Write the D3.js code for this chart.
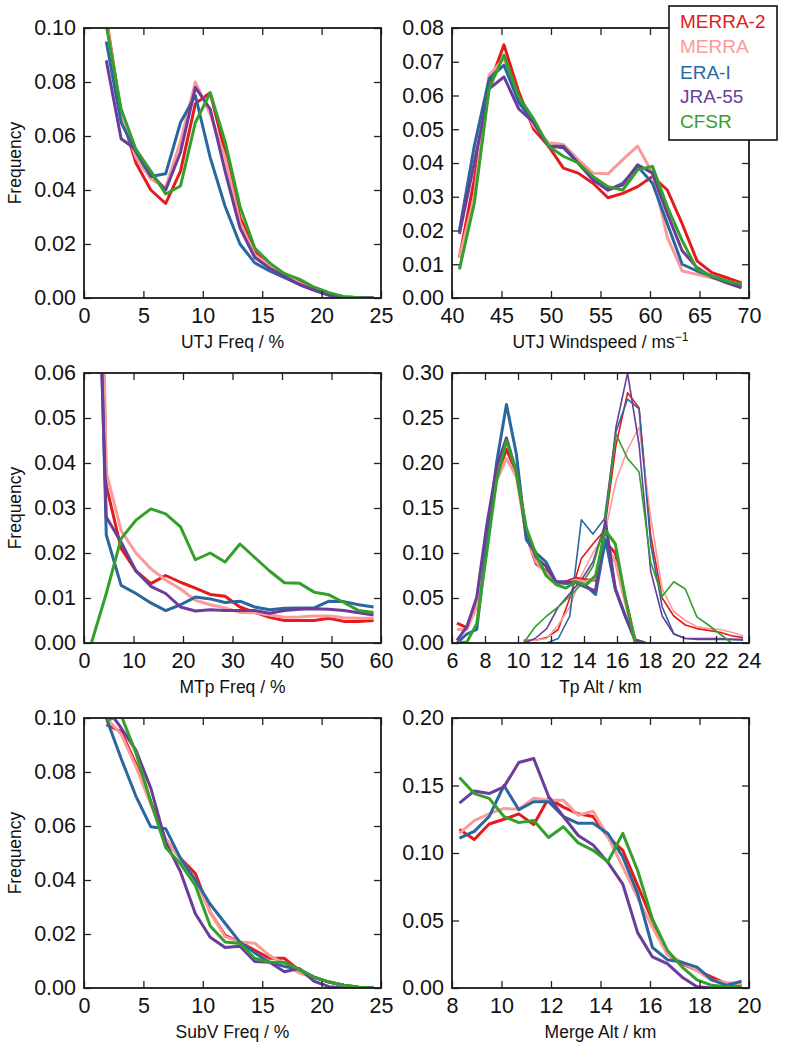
<!DOCTYPE html>
<html>
<head>
<meta charset="utf-8">
<script src="https://cdn.jsdelivr.net/npm/d3@7"></script>
<style>
  html, body { margin: 0; padding: 0; background: #fff; }
  svg { display: block; font-family: "Liberation Sans", Arial, Helvetica, sans-serif; }
</style>
</head>
<body>
<svg id="chart" width="786" height="1050"></svg>
<script>
// ---------------- DATA ----------------
const seriesNames = ["MERRA-2", "MERRA", "ERA-I", "JRA-55", "CFSR"];
const seriesColors = ["#e41a1c", "#fb9a99", "#2b679f", "#6a3d9a", "#33a02c"];

// Panel 1: UTJ Freq / %
const utjFreqX = [1.875, 3.125, 4.375, 5.625, 6.875, 8.125, 9.375, 10.625, 11.875, 13.125, 14.375, 15.625, 16.875, 18.125, 19.375, 20.625, 21.875, 23.125, 24.375];
const utjFreqMerra2 = [0.104, 0.068, 0.050, 0.040, 0.035, 0.047, 0.072, 0.076, 0.054, 0.030, 0.017, 0.012, 0.009, 0.006, 0.0035, 0.0015, 0.0005, 0.0001, 0];
const utjFreqMerra  = [0.103, 0.068, 0.052, 0.044, 0.041, 0.058, 0.080, 0.068, 0.052, 0.028, 0.016, 0.012, 0.009, 0.0055, 0.003, 0.0015, 0.0005, 0.0001, 0];
const utjFreqEraI   = [0.095, 0.065, 0.054, 0.045, 0.046, 0.065, 0.075, 0.052, 0.034, 0.020, 0.013, 0.010, 0.0075, 0.005, 0.003, 0.0012, 0.0003, 0.0001, 0];
const utjFreqJra55  = [0.088, 0.059, 0.055, 0.046, 0.040, 0.054, 0.078, 0.070, 0.047, 0.026, 0.015, 0.011, 0.008, 0.005, 0.0028, 0.001, 0, 0, 0];
const utjFreqCfsr   = [0.101, 0.070, 0.055, 0.047, 0.0385, 0.0415, 0.065, 0.076, 0.058, 0.034, 0.0185, 0.013, 0.009, 0.007, 0.004, 0.002, 0.0005, 0.0001, 0];

// Panel 2: UTJ Windspeed / m s-1
const utjWindX = [40.75, 42.25, 43.75, 45.25, 46.75, 48.25, 49.75, 51.25, 52.75, 54.25, 55.75, 57.25, 58.75, 60.25, 61.75, 63.25, 64.75, 66.25, 67.75, 69.25];
const utjWindMerra2 = [0.012, 0.035, 0.063, 0.075, 0.061, 0.050, 0.045, 0.0385, 0.037, 0.034, 0.0297, 0.031, 0.033, 0.036, 0.032, 0.022, 0.011, 0.0075, 0.006, 0.0045];
const utjWindMerra  = [0.012, 0.030, 0.066, 0.071, 0.059, 0.051, 0.046, 0.0455, 0.041, 0.037, 0.0368, 0.041, 0.045, 0.037, 0.018, 0.008, 0.007, 0.006, 0.005, 0.004];
const utjWindEraI   = [0.020, 0.045, 0.065, 0.069, 0.058, 0.052, 0.045, 0.045, 0.040, 0.035, 0.032, 0.034, 0.039, 0.034, 0.022, 0.010, 0.008, 0.0065, 0.005, 0.0035];
const utjWindJra55  = [0.019, 0.040, 0.062, 0.0655, 0.056, 0.052, 0.045, 0.0445, 0.040, 0.035, 0.032, 0.0335, 0.0395, 0.037, 0.025, 0.014, 0.009, 0.0062, 0.0045, 0.003];
const utjWindCfsr   = [0.0085, 0.028, 0.062, 0.072, 0.0596, 0.053, 0.045, 0.042, 0.040, 0.036, 0.033, 0.032, 0.038, 0.039, 0.027, 0.017, 0.0085, 0.0065, 0.005, 0.004];

// Panel 3: MTp Freq / %
const mtpX = [1.5, 4.5, 7.5, 10.5, 13.5, 16.5, 19.5, 22.5, 25.5, 28.5, 31.5, 34.5, 37.5, 40.5, 43.5, 46.5, 49.5, 52.5, 55.5, 58.5];
const mtpMerra2 = [0.20, 0.035, 0.021, 0.016, 0.0132, 0.015, 0.0135, 0.0122, 0.0108, 0.0104, 0.008, 0.0068, 0.0057, 0.005, 0.005, 0.005, 0.0055, 0.0048, 0.0048, 0.005];
const mtpMerra  = [0.20, 0.038, 0.025, 0.020, 0.0165, 0.014, 0.012, 0.0095, 0.0085, 0.0078, 0.0068, 0.0067, 0.0062, 0.0057, 0.0058, 0.006, 0.006, 0.0056, 0.0055, 0.0055];
const mtpEraI   = [0.15, 0.024, 0.0128, 0.011, 0.0089, 0.0072, 0.0085, 0.0102, 0.0098, 0.009, 0.0093, 0.008, 0.0074, 0.0077, 0.0078, 0.0078, 0.0093, 0.0092, 0.0085, 0.008];
const mtpJra55  = [0.135, 0.028, 0.0224, 0.016, 0.0126, 0.011, 0.008, 0.0071, 0.0074, 0.0072, 0.0072, 0.0072, 0.0066, 0.0072, 0.0075, 0.0076, 0.0075, 0.0072, 0.0067, 0.0062];
const mtpCfsr   = [0, 0.011, 0.0232, 0.0273, 0.0298, 0.0287, 0.0258, 0.0185, 0.020, 0.018, 0.022, 0.019, 0.016, 0.0134, 0.0133, 0.0113, 0.0107, 0.009, 0.0072, 0.0068];

// Panel 4: Tp Alt / km  (thick: first tropopause, thin: second tropopause)
const tp1X = [6.3, 6.9, 7.5, 8.1, 8.7, 9.3, 9.9, 10.5, 11.1, 11.7, 12.3, 12.9, 13.5, 14.1, 14.7, 15.3, 15.9, 16.5, 17.1, 17.7];
const tp1Merra2 = [0.022, 0.017, 0.045, 0.12, 0.185, 0.215, 0.19, 0.12, 0.088, 0.08, 0.066, 0.068, 0.072, 0.07, 0.07, 0.112, 0.10, 0.05, 0.003, 0];
const tp1Merra  = [0.015, 0.015, 0.04, 0.115, 0.18, 0.205, 0.185, 0.12, 0.09, 0.078, 0.067, 0.066, 0.07, 0.068, 0.072, 0.11, 0.09, 0.045, 0.003, 0];
const tp1EraI   = [0.0, 0.01, 0.015, 0.11, 0.20, 0.265, 0.21, 0.115, 0.10, 0.09, 0.068, 0.066, 0.068, 0.064, 0.054, 0.115, 0.06, 0.03, 0.003, 0];
const tp1Jra55  = [0.003, 0.018, 0.051, 0.13, 0.195, 0.228, 0.19, 0.125, 0.095, 0.085, 0.068, 0.068, 0.067, 0.062, 0.058, 0.135, 0.06, 0.03, 0.003, 0];
const tp1Cfsr   = [0.0, 0.001, 0.0215, 0.10, 0.18, 0.225, 0.19, 0.128, 0.098, 0.075, 0.065, 0.061, 0.068, 0.064, 0.075, 0.125, 0.11, 0.05, 0.0, 0];
const tp2X = [10.34, 11.04, 11.74, 12.44, 13.14, 13.84, 14.54, 15.24, 15.94, 16.64, 17.34, 18.04, 18.74, 19.44, 20.14, 20.84, 21.54, 22.24, 22.94, 23.64];
const tp2Merra2 = [0.003, 0.003, 0.006, 0.015, 0.05, 0.094, 0.11, 0.125, 0.22, 0.278, 0.261, 0.12, 0.05, 0.03, 0.02, 0.016, 0.014, 0.012, 0.008, 0.006];
const tp2Merra  = [0.002, 0.003, 0.005, 0.02, 0.04, 0.075, 0.10, 0.12, 0.18, 0.215, 0.24, 0.14, 0.06, 0.035, 0.025, 0.018, 0.016, 0.015, 0.012, 0.008];
const tp2EraI   = [0, 0, 0, 0.005, 0.03, 0.137, 0.121, 0.138, 0.235, 0.271, 0.26, 0.11, 0.04, 0.0104, 0.005, 0.004, 0.004, 0.004, 0.004, 0.003];
const tp2Jra55  = [0, 0.005, 0.016, 0.04, 0.055, 0.07, 0.09, 0.13, 0.24, 0.30, 0.22, 0.08, 0.03, 0.01, 0.005, 0.005, 0.005, 0.005, 0.004, 0.004];
const tp2Cfsr   = [0, 0.018, 0.03, 0.04, 0.052, 0.065, 0.085, 0.13, 0.232, 0.205, 0.19, 0.09, 0.052, 0.068, 0.06, 0.029, 0.02, 0.01, 0.0, 0];

// Panel 5: SubV Freq / %
const subvX = [1.875, 3.125, 4.375, 5.625, 6.875, 8.125, 9.375, 10.625, 11.875, 13.125, 14.375, 15.625, 16.875, 18.125, 19.375, 20.625, 21.875, 23.125, 24.375];
const subvMerra2 = [0.0975, 0.095, 0.083, 0.069, 0.055, 0.048, 0.0424, 0.028, 0.0195, 0.017, 0.014, 0.011, 0.011, 0.0065, 0.004, 0.0022, 0.001, 0.0003, 0];
const subvMerra  = [0.100, 0.094, 0.082, 0.068, 0.055, 0.048, 0.040, 0.028, 0.019, 0.017, 0.0166, 0.012, 0.009, 0.0055, 0.004, 0.0022, 0.001, 0.0003, 0];
const subvEraI   = [0.100, 0.085, 0.071, 0.0597, 0.059, 0.048, 0.040, 0.031, 0.024, 0.017, 0.013, 0.0095, 0.008, 0.007, 0.004, 0.0022, 0.001, 0.0003, 0];
const subvJra55  = [0.104, 0.0963, 0.088, 0.074, 0.054, 0.043, 0.0275, 0.0188, 0.015, 0.0155, 0.0098, 0.0095, 0.006, 0.0072, 0.0025, 0.0005, 0, 0, 0];
const subvCfsr   = [0.099, 0.101, 0.087, 0.069, 0.052, 0.046, 0.038, 0.023, 0.017, 0.0165, 0.011, 0.0095, 0.0095, 0.0068, 0.004, 0.0022, 0.001, 0.0003, 0];

// Panel 6: Merge Alt / km
const mergeX = [8.3, 8.9, 9.5, 10.1, 10.7, 11.3, 11.9, 12.5, 13.1, 13.7, 14.3, 14.9, 15.5, 16.1, 16.7, 17.3, 17.9, 18.5, 19.1, 19.7];
const mergeMerra2 = [0.1175, 0.110, 0.1215, 0.125, 0.129, 0.121, 0.1405, 0.134, 0.129, 0.127, 0.112, 0.102, 0.076, 0.050, 0.025, 0.018, 0.013, 0.008, 0.003, 0.002];
const mergeMerra  = [0.1145, 0.124, 0.129, 0.133, 0.1325, 0.1405, 0.139, 0.139, 0.128, 0.131, 0.112, 0.0897, 0.067, 0.045, 0.025, 0.019, 0.013, 0.0055, 0.004, 0.003];
const mergeEraI   = [0.111, 0.116, 0.127, 0.150, 0.132, 0.138, 0.138, 0.127, 0.122, 0.122, 0.1145, 0.097, 0.070, 0.030, 0.021, 0.019, 0.0155, 0.006, 0.002, 0.005];
const mergeJra55  = [0.137, 0.146, 0.144, 0.149, 0.167, 0.170, 0.142, 0.127, 0.113, 0.106, 0.093, 0.077, 0.041, 0.023, 0.018, 0.008, 0.001, 0, 0, 0];
const mergeCfsr   = [0.156, 0.144, 0.1405, 0.127, 0.1225, 0.124, 0.1115, 0.1195, 0.1075, 0.102, 0.0935, 0.1145, 0.087, 0.051, 0.028, 0.0155, 0.006, 0.002, 0.001, 0.001];

// Axis ticks
const ticksFreq10 = [0, 0.02, 0.04, 0.06, 0.08, 0.10];
const ticksFreq08 = [0, 0.01, 0.02, 0.03, 0.04, 0.05, 0.06, 0.07, 0.08];
const ticksFreq06 = [0, 0.01, 0.02, 0.03, 0.04, 0.05, 0.06];
const ticksFreq30 = [0, 0.05, 0.10, 0.15, 0.20, 0.25, 0.30];
const ticksFreq20 = [0, 0.05, 0.10, 0.15, 0.20];
const ticksPct25 = [0, 5, 10, 15, 20, 25];
const ticksWind = [40, 45, 50, 55, 60, 65, 70];
const ticksPct60 = [0, 10, 20, 30, 40, 50, 60];
const ticksAlt24 = [6, 8, 10, 12, 14, 16, 18, 20, 22, 24];
const ticksAlt20 = [8, 10, 12, 14, 16, 18, 20];

// ---------------- DRAW ----------------
const svg = d3.select("#chart");
const W = 297, H = 270;
const colX = [84, 452];
const rowY = [28, 373, 718];

const panels = [
  { col: 0, row: 0, xd: [0, 25], yd: [0, 0.10], xt: ticksPct25, yt: ticksFreq10, yfmt: ".2f", xlabel: "UTJ Freq / %", ylabel: true,
    sets: [{ x: utjFreqX, ys: [utjFreqMerra2, utjFreqMerra, utjFreqEraI, utjFreqJra55, utjFreqCfsr], w: 3 }] },
  { col: 1, row: 0, xd: [40, 70], yd: [0, 0.08], xt: ticksWind, yt: ticksFreq08, yfmt: ".2f", xlabel: "UTJ Windspeed / ms", xsup: "\u22121", ylabel: false,
    sets: [{ x: utjWindX, ys: [utjWindMerra2, utjWindMerra, utjWindEraI, utjWindJra55, utjWindCfsr], w: 3 }] },
  { col: 0, row: 1, xd: [0, 60], yd: [0, 0.06], xt: ticksPct60, yt: ticksFreq06, yfmt: ".2f", xlabel: "MTp Freq / %", ylabel: true,
    sets: [{ x: mtpX, ys: [mtpMerra2, mtpMerra, mtpEraI, mtpJra55, mtpCfsr], w: 3 }] },
  { col: 1, row: 1, xd: [6, 24], yd: [0, 0.30], xt: ticksAlt24, yt: ticksFreq30, yfmt: ".2f", xlabel: "Tp Alt / km", ylabel: false,
    sets: [{ x: tp2X, ys: [tp2Merra2, tp2Merra, tp2EraI, tp2Jra55, tp2Cfsr], w: 1.6 },
           { x: tp1X, ys: [tp1Merra2, tp1Merra, tp1EraI, tp1Jra55, tp1Cfsr], w: 3 }] },
  { col: 0, row: 2, xd: [0, 25], yd: [0, 0.10], xt: ticksPct25, yt: ticksFreq10, yfmt: ".2f", xlabel: "SubV Freq / %", ylabel: true,
    sets: [{ x: subvX, ys: [subvMerra2, subvMerra, subvEraI, subvJra55, subvCfsr], w: 3 }] },
  { col: 1, row: 2, xd: [8, 20], yd: [0, 0.20], xt: ticksAlt20, yt: ticksFreq20, yfmt: ".2f", xlabel: "Merge Alt / km", ylabel: false,
    sets: [{ x: mergeX, ys: [mergeMerra2, mergeMerra, mergeEraI, mergeJra55, mergeCfsr], w: 3 }] }
];

const tickFont = 21.5, labelFont = 17.5, tickLen = 7;

panels.forEach((p, i) => {
  const left = colX[p.col], top = rowY[p.row];
  const g = svg.append("g").attr("transform", `translate(${left},${top})`);
  const x = d3.scaleLinear().domain(p.xd).range([0, W]);
  const y = d3.scaleLinear().domain(p.yd).range([H, 0]);

  svg.append("defs").append("clipPath").attr("id", "clip" + i)
    .append("rect").attr("x", 0).attr("y", 0).attr("width", W).attr("height", H);

  const plot = g.append("g").attr("clip-path", `url(#clip${i})`);
  const line = d3.line().x(d => x(d[0])).y(d => y(d[1]));
  p.sets.forEach(set => {
    set.ys.forEach((vals, k) => {
      const pts = set.x.map((xv, j) => [xv, vals[j]]);
      plot.append("path").datum(pts)
        .attr("d", line)
        .attr("fill", "none")
        .attr("stroke", seriesColors[k])
        .attr("stroke-width", set.w)
        .attr("stroke-linejoin", "round")
        .attr("stroke-linecap", "butt");
    });
  });

  // axes with inward ticks on all four sides
  const ax = g.append("g").attr("transform", `translate(0,${H})`)
    .call(d3.axisBottom(x).tickValues(p.xt).tickFormat(d3.format("d")).tickSizeInner(-tickLen).tickSizeOuter(0).tickPadding(10));
  const ay = g.append("g")
    .call(d3.axisLeft(y).tickValues(p.yt).tickFormat(d3.format(p.yfmt)).tickSizeInner(-tickLen).tickSizeOuter(0).tickPadding(8));
  const at = g.append("g")
    .call(d3.axisTop(x).tickValues(p.xt).tickFormat("").tickSizeInner(-tickLen).tickSizeOuter(0));
  const ar = g.append("g").attr("transform", `translate(${W},0)`)
    .call(d3.axisRight(y).tickValues(p.yt).tickFormat("").tickSizeInner(-tickLen).tickSizeOuter(0));
  [ax, ay, at, ar].forEach(a => {
    a.select(".domain").remove();
    a.selectAll(".tick line").attr("stroke", "#222").attr("stroke-width", 1.3);
    a.selectAll("text").attr("font-size", tickFont).attr("fill", "#111")
      .attr("font-family", "'Liberation Sans', Arial, sans-serif");
  });

  g.append("rect").attr("x", 0).attr("y", 0).attr("width", W).attr("height", H)
    .attr("fill", "none").attr("stroke", "#1a1a1a").attr("stroke-width", 1.8);

  const xl = g.append("text")
    .attr("x", W / 2).attr("y", H + 50)
    .attr("text-anchor", "middle")
    .attr("font-size", labelFont).attr("fill", "#111")
    .text(p.xlabel);
  if (p.xsup) {
    xl.append("tspan").attr("dy", -7).attr("font-size", 12).text(p.xsup);
  }
  if (p.ylabel) {
    g.append("text")
      .attr("transform", `translate(${21 - left},${H / 2}) rotate(-90)`)
      .attr("text-anchor", "middle")
      .attr("font-size", labelFont).attr("fill", "#111")
      .text("Frequency");
  }
});

// legend
const lg = svg.append("g");
lg.append("rect").attr("x", 669).attr("y", 6).attr("width", 108).attr("height", 134)
  .attr("fill", "#fff").attr("stroke", "#111").attr("stroke-width", 1.6);
const legendBase = [28, 53, 79, 103, 128];
seriesNames.forEach((n, k) => {
  lg.append("text").attr("x", 680).attr("y", legendBase[k])
    .attr("font-size", 19).attr("fill", seriesColors[k]).text(n);
});
</script>
</body>
</html>
